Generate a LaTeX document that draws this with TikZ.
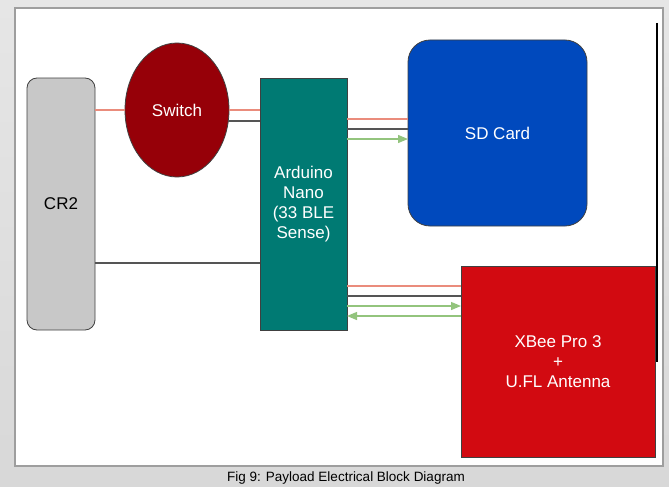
\documentclass[tikz,border=0pt]{standalone}
\usepackage{fontspec}
\setmainfont{Liberation Sans}
\usetikzlibrary{arrows.meta, shapes.geometric}

\definecolor{pageTop}{HTML}{E6E6E6}
\definecolor{pageBottom}{HTML}{D8D8D8}
\definecolor{panelEdge}{HTML}{9E9E9E}
\definecolor{cellGray}{HTML}{C8C8C8}
\definecolor{switchRed}{HTML}{960008}
\definecolor{nanoTeal}{HTML}{007A73}
\definecolor{cardBlue}{HTML}{0049BD}
\definecolor{xbeeRed}{HTML}{D20A11}
\definecolor{wireRed}{HTML}{EA8C7C}
\definecolor{wireGray}{HTML}{555555}
\definecolor{wireGreen}{HTML}{93C47D}

\begin{document}
\begin{tikzpicture}[x = 1pt, y = -1pt,
    block/.style = {draw = black!75, line width = 0.8pt, text = white, align = center, inner sep = 0pt, outer sep = 0pt, font = \fontsize{17}{20}\selectfont},
    power/.style = {draw = wireRed, line width = 1.4pt},
    ground/.style = {draw = wireGray, line width = 1.4pt},
    data/.style = {draw = wireGreen, line width = 1.2pt, -{Triangle[length = 10pt, width = 8pt]}}]
  % page and panel
  \shade[top color = pageTop, bottom color = pageBottom] (0,0) rectangle (669,487);
  \useasboundingbox (0,0) rectangle (669,487);
  \draw[panelEdge, fill = white, line width = 1.5pt] (15,8) rectangle (663,466);

  % blocks
  \node[block, fill = cellGray, text = black, rounded corners = 10pt, minimum width = 68pt, minimum height = 252pt] (cr2) at (61,204) {CR2};
  \node[block, ellipse, fill = switchRed, minimum width = 104pt, minimum height = 134pt] (sw) at (177,110) {Switch};
  \node[block, fill = nanoTeal, minimum width = 87pt, minimum height = 252pt] (nano) at (303.5,204) {Arduino\\Nano\\(33 BLE\\Sense)};
  \node[block, fill = cardBlue, rounded corners = 22pt, minimum width = 179pt, minimum height = 186pt] (sd) at (497.5,133) {SD Card};
  \node[block, fill = xbeeRed, minimum width = 194pt, minimum height = 191pt] (xbee) at (558,361.5) {XBee Pro 3\\+\\U.FL Antenna};

  \coordinate (barTop) at (657,23);
  \coordinate (barEnd) at (657,362);
  \draw[line width = 2pt] (barTop) -- (barEnd);

  % wires
  \draw[power] (sw.west -| cr2.east) -- (sw.west);
  \draw[power] (sw.east) -- (sw.east -| nano.west);
  \draw[power] ([yshift = 14pt]sd.west -| nano.east) -- ([yshift = 14pt]sd.west);
  \draw[power] ([yshift = -20pt]xbee.north west -| nano.east) -- ([yshift = -20pt]xbee.north west);
  \draw[ground] (sw.-12) -- (sw.-12 -| nano.west);
  \draw[ground] ([yshift = -59pt]cr2.east) -- ([yshift = -59pt]cr2.east -| nano.west);
  \draw[ground] ([yshift = 4pt]sd.west -| nano.east) -- ([yshift = 4pt]sd.west);
  \draw[ground] ([yshift = -30pt]xbee.north west -| nano.east) -- ([yshift = -30pt]xbee.north west);
  \draw[data] ([yshift = -6pt]sd.west -| nano.east) -- ([yshift = -6pt]sd.west);
  \draw[data] ([yshift = -40pt]xbee.north west -| nano.east) -- ([yshift = -40pt]xbee.north west);
  \draw[data] ([yshift = -50pt]xbee.north west) -- ([yshift = -50pt]xbee.north west -| nano.east);

  \node[font = \fontsize{13.5}{15}\selectfont] (caption) at (346,478) {Fig 9: Payload Electrical Block Diagram};
\end{tikzpicture}
\end{document}
